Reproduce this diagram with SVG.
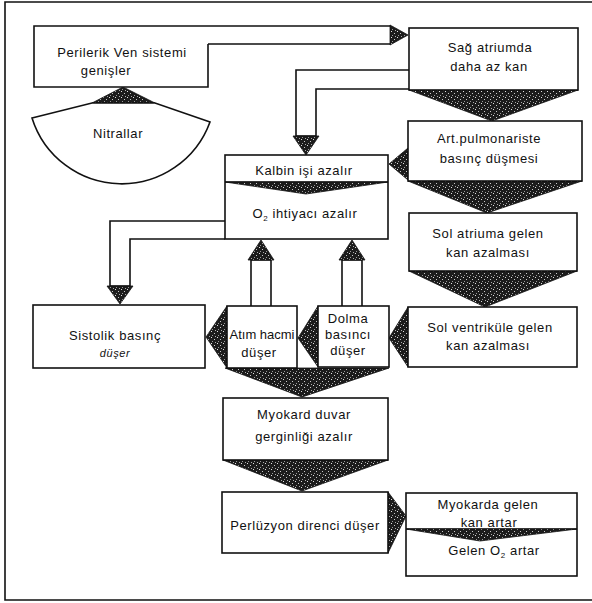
<svg xmlns="http://www.w3.org/2000/svg" width="592" height="603" viewBox="0 0 592 603">
<defs>
<pattern id="stip" width="6" height="6" patternUnits="userSpaceOnUse">
<rect width="6" height="6" fill="#1c1c1c"/>
<rect x="1" y="1" width="1" height="1" fill="#e0e0e0"/>
<rect x="4" y="3" width="1" height="1" fill="#c8c8c8"/>
<rect x="2" y="5" width="1" height="1" fill="#999"/>
<rect x="5" y="0" width="1" height="1" fill="#aaa"/>
</pattern>
<style>
.box{fill:#fff;stroke:#111;stroke-width:1.6}
.ln{fill:none;stroke:#111;stroke-width:1.6}
.sh{fill:url(#stip);stroke:#111;stroke-width:0.8;stroke-linejoin:round}
.frame{fill:none;stroke:#111;stroke-width:1.6}
text{font-family:"Liberation Sans",Arial,sans-serif;font-size:13px;fill:#111;text-anchor:middle;letter-spacing:0.6px}
.sm{font-size:11px;font-style:italic}
.tight{letter-spacing:0}
</style>
</defs>
<rect width="592" height="603" fill="#fff"/>
<path class="frame" d="M592,2 H5 V600 H592"/>

<g id="connectors">
<!-- Periferik -> Sag atriumda -->
<path class="ln" d="M208,26 H390 M208,44 H390"/>
<polygon class="sh" points="390,25 408,35 390,45"/>
<!-- Sag atriumda -> Kalbin -->
<path class="box" d="M409,70 H296 V136 H316 V89 H409"/>
<polygon class="sh" points="293,136 319,136 306,155"/>
<!-- Sag -> Art -->
<polygon class="sh" points="409,90 578,90 492,121"/>
<!-- Art -> Kalbin -->
<polygon class="sh" points="408,148 389,164 408,180"/>
<!-- Art -> Sol atriuma -->
<polygon class="sh" points="408,181 582,181 487,213"/>
<!-- Sol atriuma -> Sol ventrikul -->
<polygon class="sh" points="409,271 577,271 485,307"/>
<!-- Sol ventrikul -> Dolma -->
<polygon class="sh" points="408,307 389,338 408,367"/>
<!-- Dolma -> Atim -->
<polygon class="sh" points="318,306 298,338 318,367"/>
<!-- Atim -> Sistolik -->
<polygon class="sh" points="227,306 206,337 227,368"/>
<!-- O2 -> Sistolik -->
<path class="box" d="M225,221 H110 V286 H130 V239 H225"/>
<polygon class="sh" points="107,286 133,286 120,304"/>
<!-- Atim up -> O2 -->
<path class="box" d="M251,306 V260 H271 V306"/>
<polygon class="sh" points="248,260 274,260 261,240"/>
<!-- Dolma up -> O2 -->
<path class="box" d="M342,306 V260 H362 V306"/>
<polygon class="sh" points="339,260 365,260 352,240"/>
<!-- Atim/Dolma -> Myokard -->
<polygon class="sh" points="225,368 389,368 302,397"/>
<!-- Myokard -> Perfuzyon -->
<polygon class="sh" points="223,460 388,460 302,491"/>
<!-- Perfuzyon -> Myokarda -->
<polygon class="sh" points="388,492 406,516 388,553"/>
<!-- Nitrallar -> Periferik -->
<polygon class="sh" points="92,103 123,87 155,103"/>
</g>

<g id="periferik">
<path class="box" d="M208,44 V87 H34 V26 H208"/>
<text x="122" y="57">Perilerik Ven sistemi</text>
<text x="106" y="75">genişler</text>
</g>

<g id="nitrallar">
<path class="box" d="M32,118 L92,103 L155,103 L210,122 A94,94 0 0 1 32,118 Z"/>
<text x="118" y="138">Nitrallar</text>
</g>

<g id="sag-atriumda">
<rect class="box" x="409" y="28" width="169" height="62"/>
<text x="490" y="52">Sağ atriumda</text>
<text x="489" y="71">daha az kan</text>
</g>

<g id="art-pulmonariste">
<rect class="box" x="408" y="121" width="174" height="60"/>
<text x="489" y="143">Art.pulmonariste</text>
<text x="489" y="163">basınç düşmesi</text>
</g>

<g id="kalbin">
<rect class="box" x="225" y="155" width="163" height="84"/>
<line class="ln" x1="225" y1="182" x2="388" y2="182"/>
<polygon class="sh" points="225,182 388,182 306,194"/>
<text x="304" y="175">Kalbin işi azalır</text>
<text x="305" y="218">O<tspan font-size="8" dy="3">2</tspan><tspan dy="-3"> ihtiyacı azalır</tspan></text>
</g>

<g id="sol-atriuma">
<rect class="box" x="409" y="213" width="168" height="58"/>
<text x="488" y="238">Sol atriuma gelen</text>
<text x="488" y="257">kan azalması</text>
</g>

<g id="sol-ventrikul">
<rect class="box" x="408" y="307" width="169" height="60"/>
<text x="490" y="332">Sol ventriküle gelen</text>
<text x="488" y="350">kan azalması</text>
</g>

<g id="dolma">
<rect class="box" x="318" y="306" width="71" height="61"/>
<text x="348" y="323">Dolma</text>
<text x="348" y="339">basıncı</text>
<text x="348" y="355">düşer</text>
</g>

<g id="atim">
<rect class="box" x="227" y="306" width="70" height="62"/>
<text class="tight" x="262" y="339">Atım hacmi</text>
<text x="259" y="357">düşer</text>
</g>

<g id="sistolik">
<rect class="box" x="33" y="305" width="172" height="63"/>
<text x="115" y="340">Sistolik basınç</text>
<text class="sm" x="115" y="357">düşer</text>
</g>

<g id="myokard">
<rect class="box" x="223" y="398" width="165" height="62"/>
<text x="304" y="419">Myokard duvar</text>
<text x="304" y="441">gerginliği azalır</text>
</g>

<g id="perfuzyon">
<rect class="box" x="222" y="492" width="166" height="61"/>
<text x="305" y="530">Perlüzyon direnci düşer</text>
</g>

<g id="myokarda">
<rect class="box" x="406" y="493" width="171" height="83"/>
<line class="ln" x1="406" y1="529" x2="577" y2="529"/>
<polygon class="sh" points="406,529 577,529 480,541"/>
<text x="488" y="509">Myokarda gelen</text>
<text x="489" y="527">kan artar</text>
<text x="494" y="555">Gelen O<tspan font-size="8" dy="3">2</tspan><tspan dy="-3"> artar</tspan></text>
</g>
</svg>
